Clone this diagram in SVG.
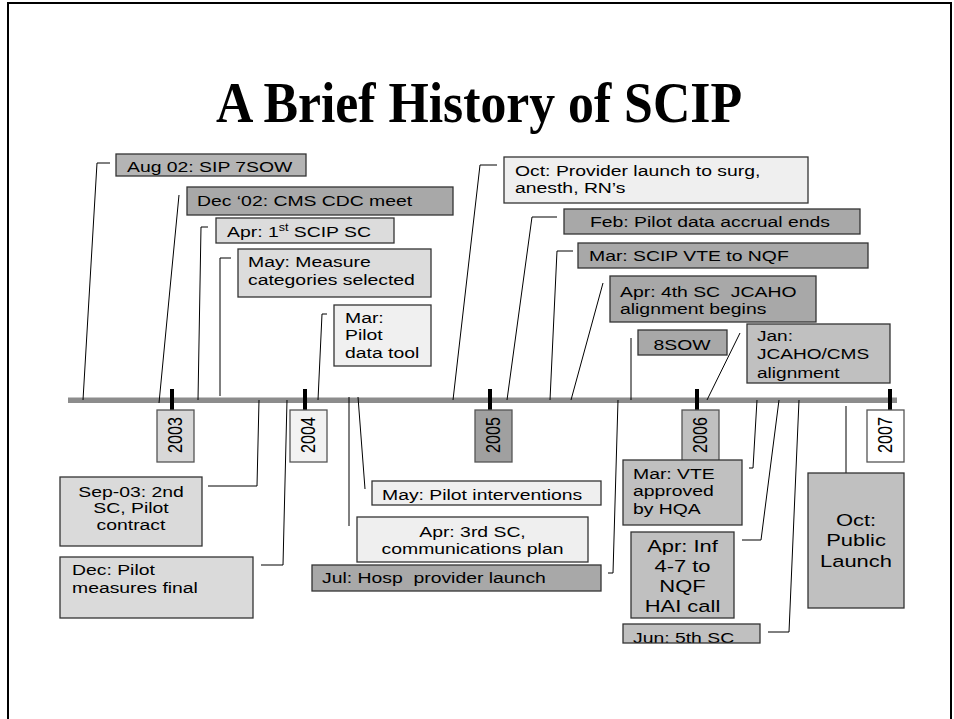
<svg xmlns="http://www.w3.org/2000/svg" width="954" height="719" viewBox="0 0 954 719">
<style>
.t{font-family:"Liberation Sans",Arial,sans-serif;font-size:15.5px;fill:#000}
.tl{font-family:"Liberation Sans",Arial,sans-serif;font-size:16.5px;fill:#000}
.yr{font-family:"Liberation Sans",Arial,sans-serif;font-size:20px;fill:#000}
.box{stroke:#333;stroke-width:1.3}
.ybox{stroke:#555;stroke-width:1.3}
.dk{fill:#a8a8a8}.md{fill:#c0c0c0}.lt{fill:#dadada}.vl{fill:#efefef}
.lead{fill:none;stroke:#000;stroke-width:1}
.tick{stroke:#000;stroke-width:4}
</style>
<rect width="954" height="719" fill="#fff"/>
<g id="frame"><path d="M8,719 V3 H951 V719" fill="none" stroke="#000" stroke-width="2"/></g>
<g id="title"><text x="479" y="122" font-family="'Liberation Serif','Times New Roman',serif" font-weight="bold" font-size="58" text-anchor="middle" textLength="526" lengthAdjust="spacingAndGlyphs">A Brief History of SCIP</text></g>
<g id="timeline">
<rect x="68" y="397.5" width="829" height="5.5" fill="#8c8c8c"/>
<line class="tick" x1="172" y1="389" x2="172" y2="410"/>
<line class="tick" x1="305" y1="389" x2="305" y2="410"/>
<line class="tick" x1="490" y1="389" x2="490" y2="410"/>
<line class="tick" x1="697" y1="389" x2="697" y2="410"/>
<line class="tick" x1="890" y1="389" x2="890" y2="410"/>
</g>
<g id="y2003"><rect class="ybox" x="157" y="410" width="37" height="52" fill="#d8d8d8"/><text class="yr" transform="translate(182,435) rotate(-90)" text-anchor="middle" textLength="36" lengthAdjust="spacingAndGlyphs">2003</text></g>
<g id="y2004"><rect class="ybox" x="290" y="410" width="37" height="52" fill="#f2f2f2"/><text class="yr" transform="translate(315,435) rotate(-90)" text-anchor="middle" textLength="36" lengthAdjust="spacingAndGlyphs">2004</text></g>
<g id="y2005"><rect class="ybox" x="475" y="410" width="37" height="52" fill="#a0a0a0"/><text class="yr" transform="translate(500,435) rotate(-90)" text-anchor="middle" textLength="36" lengthAdjust="spacingAndGlyphs">2005</text></g>
<g id="y2006"><rect class="ybox" x="682" y="410" width="37" height="52" fill="#c0c0c0"/><text class="yr" transform="translate(707,435) rotate(-90)" text-anchor="middle" textLength="36" lengthAdjust="spacingAndGlyphs">2006</text></g>
<g id="y2007"><rect class="ybox" x="867" y="410" width="37" height="52" fill="#fff"/><text class="yr" transform="translate(892,435) rotate(-90)" text-anchor="middle" textLength="36" lengthAdjust="spacingAndGlyphs">2007</text></g>
<g id="connectors">
<polyline class="lead" points="110,163 97,163 83,400"/>
<line class="lead" x1="179" y1="195" x2="159" y2="403"/>
<polyline class="lead" points="208,227 201,227 198,400"/>
<polyline class="lead" points="231,258 220,258 220,396"/>
<polyline class="lead" points="327,314 322,314 318,400"/>
<polyline class="lead" points="497,165 480,165 453,400"/>
<polyline class="lead" points="557,217 532,217 507,400"/>
<polyline class="lead" points="573,251 557,251 550,400"/>
<line class="lead" x1="603" y1="283" x2="571" y2="400"/>
<line class="lead" x1="631" y1="338" x2="631" y2="400"/>
<line class="lead" x1="740" y1="333" x2="707" y2="400"/>
<polyline class="lead" points="208,486 257,486 259,400"/>
<polyline class="lead" points="261,565 283,565 287,400"/>
<line class="lead" x1="365" y1="489" x2="358" y2="397"/>
<line class="lead" x1="349" y1="526" x2="349" y2="397"/>
<polyline class="lead" points="608,573 613,573 618,400"/>
<polyline class="lead" points="749,468 753,468 757,400"/>
<polyline class="lead" points="742,540 761,540 779,400"/>
<polyline class="lead" points="768,632 789,632 799,400"/>
<line class="lead" x1="846" y1="406" x2="846" y2="473"/>
</g>
<g id="aug02"><rect class="box" x="116" y="154" width="190" height="22" fill="#b4b4b4"/><text class="t" transform="translate(127,172) scale(1.25,1)">Aug 02: SIP 7SOW</text></g>
<g id="dec02"><rect class="box dk" x="187" y="187" width="266" height="28"/><text class="t" transform="translate(197,206) scale(1.25,1)">Dec ‘02: CMS CDC meet</text></g>
<g id="apr03"><rect class="box" x="216" y="218" width="178" height="25" fill="#dcdcdc"/><text class="t" transform="translate(227,237) scale(1.25,1)">Apr: 1<tspan font-size="10" dy="-6">st</tspan><tspan dy="6"> SCIP SC</tspan></text></g>
<g id="may03"><rect class="box" x="238" y="249" width="193" height="48" fill="#dcdcdc"/><text class="t" transform="translate(248,267) scale(1.25,1)"><tspan x="0" y="0">May: Measure</tspan><tspan x="0" dy="18">categories selected</tspan></text></g>
<g id="mar04"><rect class="box" x="334" y="305" width="97" height="61" fill="#f0f0f0"/><text class="t" transform="translate(345,323) scale(1.25,1)"><tspan x="0" y="0">Mar:</tspan><tspan x="0" dy="17.5">Pilot</tspan><tspan x="0" dy="17.5">data tool</tspan></text></g>
<g id="oct04"><rect class="box vl" x="504" y="157" width="304" height="46"/><text class="t" transform="translate(515,176) scale(1.25,1)"><tspan x="0" y="0">Oct: Provider launch to surg,</tspan><tspan x="0" dy="17">anesth, RN’s</tspan></text></g>
<g id="feb05"><rect class="box dk" x="564" y="209" width="296" height="25"/><text class="t" transform="translate(590,227) scale(1.25,1)">Feb: Pilot data accrual ends</text></g>
<g id="mar05"><rect class="box dk" x="578" y="243" width="290" height="25"/><text class="t" transform="translate(589,261) scale(1.25,1)">Mar: SCIP VTE to NQF</text></g>
<g id="apr05"><rect class="box dk" x="610" y="276" width="206" height="46"/><text class="t" transform="translate(620,297) scale(1.25,1)" xml:space="preserve"><tspan x="0" y="0">Apr: 4th SC  JCAHO</tspan><tspan x="0" dy="17">alignment begins</tspan></text></g>
<g id="sow8"><rect class="box dk" x="638" y="330" width="89" height="25"/><text class="t" transform="translate(682,350) scale(1.25,1)" text-anchor="middle" font-size="17.5">8SOW</text></g>
<g id="jan06"><rect class="box md" x="747" y="324" width="143" height="59"/><text class="t" transform="translate(757,341) scale(1.23,1)" font-size="16"><tspan x="0" y="0">Jan:</tspan><tspan x="0" dy="18.5">JCAHO/CMS</tspan><tspan x="0" dy="18.5">alignment</tspan></text></g>
<g id="sep03"><rect class="box lt" x="60" y="477" width="142" height="69"/><text class="t" transform="translate(131,497) scale(1.25,1)" text-anchor="middle"><tspan x="0" y="0">Sep-03: 2nd</tspan><tspan x="0" dy="16.5">SC, Pilot</tspan><tspan x="0" dy="16.5">contract</tspan></text></g>
<g id="dec03"><rect class="box lt" x="60" y="557" width="193" height="61"/><text class="t" transform="translate(72,575) scale(1.25,1)"><tspan x="0" y="0">Dec: Pilot</tspan><tspan x="0" dy="18">measures final</tspan></text></g>
<g id="may04"><rect class="box vl" x="372" y="481" width="229" height="24"/><text class="t" transform="translate(382,500) scale(1.25,1)">May: Pilot interventions</text></g>
<g id="apr04"><rect class="box vl" x="357" y="517" width="231" height="45"/><text class="t" transform="translate(472.5,537) scale(1.25,1)" text-anchor="middle"><tspan x="0" y="0">Apr: 3rd SC,</tspan><tspan x="0" dy="17">communications plan</tspan></text></g>
<g id="jul05"><rect class="box dk" x="312" y="565" width="289" height="26"/><text class="t" transform="translate(322,583) scale(1.25,1)" xml:space="preserve">Jul: Hosp  provider launch</text></g>
<g id="mar06"><rect class="box md" x="623" y="460" width="119" height="65"/><text class="t" transform="translate(633,479) scale(1.25,1)"><tspan x="0" y="0">Mar: VTE</tspan><tspan x="0" dy="17.5">approved</tspan><tspan x="0" dy="17.5">by HQA</tspan></text></g>
<g id="apr06"><rect class="box md" x="631" y="532" width="103" height="86"/><text class="tl" transform="translate(682.5,552) scale(1.33,1)" text-anchor="middle"><tspan x="0" y="0">Apr: Inf</tspan><tspan x="0" dy="20">4-7 to</tspan><tspan x="0" dy="20">NQF</tspan><tspan x="0" dy="20">HAI call</tspan></text></g>
<g id="jun06"><rect class="md" x="623" y="624" width="137" height="19"/><text class="t" transform="translate(633,643) scale(1.25,1)">Jun: 5th SC</text><rect class="box" x="623" y="624" width="137" height="19" fill="none"/></g>
<g id="oct06"><rect class="box md" x="808" y="473" width="96" height="135"/><text class="tl" transform="translate(856,526) scale(1.33,1)" text-anchor="middle"><tspan x="0" y="0">Oct:</tspan><tspan x="0" dy="20.5">Public</tspan><tspan x="0" dy="20.5">Launch</tspan></text></g>
</svg>
